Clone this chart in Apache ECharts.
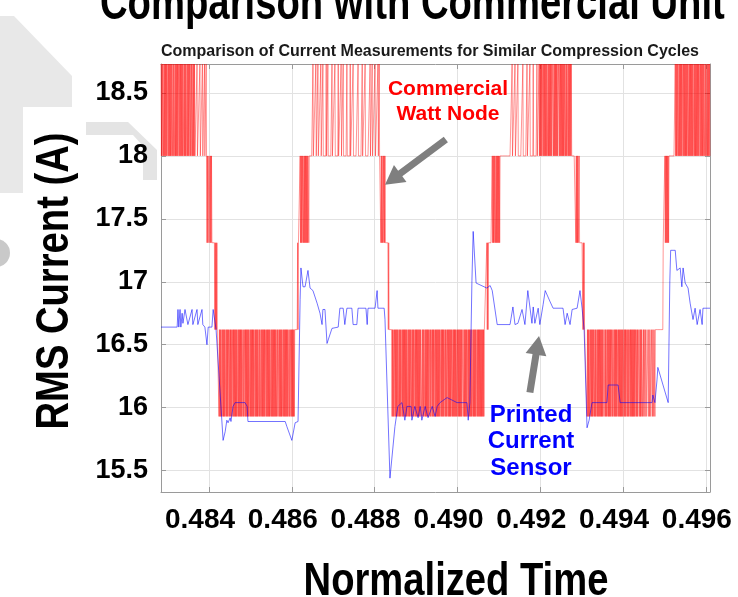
<!DOCTYPE html>
<html>
<head>
<meta charset="utf-8">
<script src="https://cdn.jsdelivr.net/npm/echarts@6/dist/echarts.min.js"></script>
<style>
  html, body { margin: 0; padding: 0; background: #ffffff; }
  #chart { width: 738px; height: 597px; }
</style>
</head>
<body>
<div id="chart"></div>
<script>
// ---- Axis limits and ticks ----
const timeRange = [0.48284, 0.49610];
const currentRange = [15.33, 18.73];
const timeTicks = [0.484, 0.486, 0.488, 0.490, 0.492, 0.494, 0.496];
const currentTicks = [15.5, 16, 16.5, 17, 17.5, 18, 18.5];

// ---- Commercial Watt Node: quantised RMS current levels (A) ----
const wattNodeLevels = [15.93, 16.62, 17.31, 18.00, 18.73];
// sampling clock of the meter (normalized time)
const wattNodeStart = 0.48284;
const wattNodeStep = 0.00001;
// one character per sample = index into wattNodeLevels, grouped by cycle phase
const wattNodeHigh1 = ["4343443434", "3434344343", "4343434434", "3443434343", "4344343434",
  "3434434343", "4334343434", "4343443434", "34",
  "33333", "4", "333333", "4", "33333", "4", "3333", "4", "333", "4", "3"];
const wattNodeFall1 = ["2323322323232", "222222", "1212121111"];
const wattNodeLow1 = ["0101010010", "1010100101", "0101101010", "1001010101", "0101001010",
  "1010101101", "0010101010", "1010010101", "0101011010", "1010100101", "0010101010",
  "1011010101", "0101001010", "1010101010", "0101101010", "1010010101", "0101010110",
  "1001010101", "0101"];
const wattNodeRise1 = ["11111", "1212222", "323232332323232323233233", "3333333"];
const wattNodeHigh2 = ["4333333", "43333", "4333333", "43333", "43333333", "4333", "4333333333",
  "4333333", "43333333", "4333333", "43333", "433333333", "43333333", "4333333",
  "433333333333", "4333333333", "4333333", "433333333333", "43333", "4333333", "4333333",
  "433", "43"];
const wattNodeFall2 = ["33", "232322323232", "22222", "2121", "111111"];
const wattNodeLow2 = ["0101001010", "1010110101", "0100101010", "1010101001", "0101011010",
  "1010010101", "0101010101", "1001010110", "1010101010", "0101001010", "1011010101",
  "0101010010", "1010101101", "0100101010", "1010110101", "0101010010", "1010101010",
  "0110101010", "1001010101", "0101101010", "1010010101", "0101010101", "01011"];
const wattNodeRise2 = ["1111", "21212222", "22222", "32323233232323232323",
  "3333333333", "3333333333", "33333333"];
const wattNodeHigh3 = ["4333333", "4333333", "433333333333", "4333333333", "4333333",
  "43333333", "433333333", "43333", "43",
  "4343434434", "3434343443", "4343434343", "3443434343", "4343344343", "4343434343",
  "4434343343", "43434343"];
const wattNodeFall3 = ["333333333", "2323232232", "2222222", "1212", "111111"];
const wattNodeLow3 = ["0101010010", "1010101101", "0100101010", "1010101010", "0110101001",
  "0101010101", "1010010101", "0101101010", "1010101001", "0101011010", "1001010101",
  "0101010110", "1010011010", "1011001011", "0110011101", "1011001101", "101101111"];
const wattNodeRise3 = ["11111", "11111", "11111", "2222", "323232323233", "3333333333", "333",
  "4343434434", "3434343443", "4343434343", "4434343434", "3434434343", "4343434344",
  "3434343434", "4343443434", "34343"];

// ---- Printed current sensor trace ----
const sensorTime = [0.48284, 0.48323, 0.48325, 0.48327, 0.48330, 0.48332, 0.48335, 0.48337,
  0.48342, 0.48349, 0.48359, 0.48361, 0.48371, 0.48373, 0.48383, 0.48385, 0.48390, 0.48395,
  0.48398, 0.48407, 0.48410, 0.48417, 0.48434, 0.48439, 0.48443, 0.48446, 0.48451, 0.48453,
  0.48458, 0.48463, 0.48487, 0.48492, 0.48494, 0.48584, 0.48588, 0.48600, 0.48608, 0.48615,
  0.48620, 0.48622, 0.48627, 0.48632, 0.48639, 0.48644, 0.48651, 0.48661, 0.48668, 0.48673,
  0.48675, 0.48680, 0.48685, 0.48697, 0.48712, 0.48716, 0.48724, 0.48728, 0.48733, 0.48745,
  0.48748, 0.48757, 0.48760, 0.48779, 0.48782, 0.48784, 0.48801, 0.48806, 0.48808, 0.48823,
  0.48825, 0.48837, 0.48849, 0.48856, 0.48866, 0.48873, 0.48878, 0.48888, 0.48890, 0.48897,
  0.48905, 0.48910, 0.48914, 0.48922, 0.48929, 0.48939, 0.48946, 0.48951, 0.48958, 0.48975,
  0.48987, 0.48999, 0.49023, 0.49026, 0.49030, 0.49035, 0.49038, 0.49045, 0.49071, 0.49079,
  0.49084, 0.49096, 0.49127, 0.49134, 0.49139, 0.49146, 0.49156, 0.49163, 0.49170, 0.49180,
  0.49183, 0.49187, 0.49195, 0.49199, 0.49207, 0.49212, 0.49224, 0.49231, 0.49255, 0.49260,
  0.49265, 0.49272, 0.49277, 0.49289, 0.49296, 0.49301, 0.49306, 0.49313, 0.49318, 0.49325,
  0.49361, 0.49364, 0.49388, 0.49393, 0.49470, 0.49472, 0.49477, 0.49482, 0.49484, 0.49509,
  0.49513, 0.49515, 0.49526, 0.49530, 0.49538, 0.49542, 0.49545, 0.49550, 0.49557, 0.49562,
  0.49569, 0.49574, 0.49579, 0.49586, 0.49591, 0.49593, 0.49610];
const sensorCurrent = [16.64, 16.64, 16.78, 16.64, 16.78, 16.64, 16.75, 16.67,
  16.78, 16.66, 16.78, 16.66, 16.78, 16.66, 16.78, 16.66, 16.64, 16.50,
  16.64, 16.64, 16.78, 16.62, 15.74, 15.81, 15.90, 15.88, 15.92, 15.89,
  16.01, 16.04, 16.04, 16.01, 15.89, 15.89, 15.85, 15.74, 15.88, 15.89,
  16.86, 17.11, 16.96, 16.96, 17.09, 16.95, 16.93, 16.83, 16.75, 16.66,
  16.78, 16.78, 16.51, 16.63, 16.64, 16.79, 16.79, 16.66, 16.79, 16.79,
  16.66, 16.66, 16.79, 16.79, 16.66, 16.79, 16.79, 16.93, 16.79, 16.79,
  16.70, 15.44, 15.85, 16.01, 16.04, 15.90, 16.01, 16.01, 15.90, 16.01,
  15.92, 16.01, 15.90, 16.01, 15.92, 16.01, 15.93, 16.01, 16.04, 16.08,
  16.06, 16.04, 16.04, 15.90, 16.04, 17.01, 17.40, 16.99, 16.95, 16.97,
  16.93, 16.66, 16.66, 16.80, 16.66, 16.67, 16.78, 16.66, 16.93, 16.67,
  16.80, 16.67, 16.79, 16.66, 16.82, 16.93, 16.84, 16.79, 16.79, 16.66,
  16.75, 16.66, 16.78, 16.79, 16.93, 16.79, 16.62, 15.84, 15.90, 16.04,
  16.04, 16.18, 16.18, 16.04, 16.04, 16.10, 16.04, 16.22, 16.32, 16.04,
  17.01, 17.25, 17.25, 17.09, 17.11, 16.96, 17.11, 16.99, 16.95, 16.83,
  16.70, 16.79, 16.66, 16.78, 16.66, 16.79, 16.79];

// annotation arrows, given in data coordinates [time, current]
const wattArrow = { from: [0.48972, 18.13], to: [0.48825, 17.77] };
const sensorArrow = { from: [0.49175, 16.12], to: [0.49197, 16.57] };

// ---- build series data ----
const wattNodeSamples = [wattNodeHigh1, wattNodeFall1, wattNodeLow1, wattNodeRise1,
  wattNodeHigh2, wattNodeFall2, wattNodeLow2, wattNodeRise2,
  wattNodeHigh3, wattNodeFall3, wattNodeLow3, wattNodeRise3]
  .map(p => p.join('')).join('');
const wattNodeData = [];
for (let i = 0; i < wattNodeSamples.length; i++) {
  wattNodeData.push([wattNodeStart + i * wattNodeStep, wattNodeLevels[+wattNodeSamples[i]]]);
}
const sensorData = sensorTime.map((t, i) => [t, sensorCurrent[i]]);

const FONT = "'Liberation Sans', Arial, sans-serif";
const AXIS_GREY = '#9a9a9a';
const GRID_GREY = '#e2e2e2';

function frameAxis(extra) {
  return Object.assign({
    type: 'value',
    axisLine: { show: true, onZero: false, lineStyle: { color: AXIS_GREY, width: 1 } },
    axisTick: { show: true, inside: true, length: 5, lineStyle: { color: AXIS_GREY } },
    splitLine: { show: false }
  }, extra);
}

const chart = echarts.init(document.getElementById('chart'), null, { renderer: 'canvas' });

chart.setOption({
  animation: false,
  backgroundColor: '#ffffff',
  textStyle: { fontFamily: FONT },
  grid: { left: 161, right: 28, top: 64, bottom: 105 },
  xAxis: [
    frameAxis({
      min: timeRange[0], max: timeRange[1], position: 'bottom',
      axisTick: { show: true, inside: true, length: 5, customValues: timeTicks, lineStyle: { color: AXIS_GREY } },
      axisLabel: {
        customValues: timeTicks, formatter: v => v.toFixed(3),
        fontSize: 28, fontWeight: 'bold', color: '#000', fontFamily: FONT,
        margin: 14, padding: [0, 18, 0, 0]
      },
      splitLine: { show: true, lineStyle: { color: GRID_GREY, width: 1 } }
    }),
    frameAxis({
      min: timeRange[0], max: timeRange[1], position: 'top',
      axisTick: { show: true, inside: true, length: 5, customValues: timeTicks, lineStyle: { color: AXIS_GREY } },
      axisLabel: { show: false }
    })
  ],
  yAxis: [
    frameAxis({
      min: currentRange[0], max: currentRange[1], position: 'left',
      axisTick: { show: true, inside: true, length: 5, customValues: currentTicks, lineStyle: { color: AXIS_GREY } },
      axisLabel: {
        customValues: currentTicks,
        fontSize: 27, fontWeight: 'bold', color: '#000', fontFamily: FONT, margin: 13
      },
      splitLine: { show: true, lineStyle: { color: GRID_GREY, width: 1 } }
    }),
    frameAxis({
      min: currentRange[0], max: currentRange[1], position: 'right',
      axisTick: { show: true, inside: true, length: 5, customValues: currentTicks, lineStyle: { color: AXIS_GREY } },
      axisLabel: { show: false }
    })
  ],
  series: [
    {
      name: 'Commercial Watt Node', type: 'line', data: wattNodeData,
      xAxisIndex: 0, yAxisIndex: 0,
      showSymbol: false, symbol: 'none',
      lineStyle: { color: '#ff0000', width: 0.6, opacity: 0.7 },
      z: 2
    },
    {
      name: 'Printed Current Sensor', type: 'line', data: sensorData,
      xAxisIndex: 0, yAxisIndex: 0,
      showSymbol: false, symbol: 'none',
      lineStyle: { color: '#0000ff', width: 1, opacity: 0.55 },
      z: 3
    }
  ]
});

// arrow polygon from tail to tip (pixel space)
function arrowShape(tail, tip) {
  const shaft = 7, headLen = 19, headWidth = 21;
  const dx = tip[0] - tail[0], dy = tip[1] - tail[1];
  const len = Math.hypot(dx, dy);
  const ux = dx / len, uy = dy / len;
  const nx = -uy, ny = ux;
  const bx = tip[0] - ux * headLen, by = tip[1] - uy * headLen;
  return [
    [tail[0] + nx * shaft / 2, tail[1] + ny * shaft / 2],
    [bx + nx * shaft / 2, by + ny * shaft / 2],
    [bx + nx * headWidth / 2, by + ny * headWidth / 2],
    [tip[0], tip[1]],
    [bx - nx * headWidth / 2, by - ny * headWidth / 2],
    [bx - nx * shaft / 2, by - ny * shaft / 2],
    [tail[0] - nx * shaft / 2, tail[1] - ny * shaft / 2]
  ];
}
const px = p => chart.convertToPixel({ gridIndex: 0 }, p);

chart.setOption({
  graphic: { elements: [
    // slide decoration behind the figure
    { type: 'polygon', z: -10, silent: true,
      shape: { points: [[0, 16], [14, 16], [72, 76], [72, 107], [23, 107], [23, 193], [0, 193]] },
      style: { fill: '#e8e8e8' } },
    { type: 'polygon', z: -10, silent: true,
      shape: { points: [[86, 122], [128, 122], [157, 150], [157, 180], [143, 180], [143, 146], [133, 135], [86, 135]] },
      style: { fill: '#e4e4e4' } },
    { type: 'circle', z: -10, silent: true,
      shape: { cx: -4, cy: 253, r: 14 }, style: { fill: '#c9c9c9' } },
    // slide title (runs off the top edge)
    { type: 'text', x: 100, y: 30, scaleX: 0.765, silent: true,
      style: { text: 'Comparison with Commercial Unit', font: 'bold 50px ' + FONT,
        fill: '#000', textAlign: 'left', textVerticalAlign: 'bottom' } },
    // figure title
    { type: 'text', x: 430, y: 52, silent: true,
      style: { text: 'Comparison of Current Measurements for Similar Compression Cycles',
        font: 'bold 16px ' + FONT, fill: '#1a1a1a', textAlign: 'center', textVerticalAlign: 'middle' } },
    // axis titles
    { type: 'text', x: 55, y: 281, rotation: Math.PI / 2, scaleX: 0.83, silent: true,
      style: { text: 'RMS Current (A)', font: 'bold 46px ' + FONT, fill: '#000',
        textAlign: 'center', textVerticalAlign: 'middle' } },
    { type: 'text', x: 456, y: 582, scaleX: 0.83, silent: true,
      style: { text: 'Normalized Time', font: 'bold 46px ' + FONT, fill: '#000',
        textAlign: 'center', textVerticalAlign: 'middle' } },
    // series call-outs
    { type: 'text', x: 448, y: 77, silent: true,
      style: { text: 'Commercial\nWatt Node', font: 'bold 21px ' + FONT, lineHeight: 25,
        fill: '#ff0000', textAlign: 'center', textVerticalAlign: 'top' } },
    { type: 'text', x: 531, y: 402, silent: true,
      style: { text: 'Printed\nCurrent\nSensor', font: 'bold 24px ' + FONT, lineHeight: 26.5,
        fill: '#0000ff', textAlign: 'center', textVerticalAlign: 'top' } },
    { type: 'polygon', silent: true, z: 10,
      shape: { points: arrowShape(px(wattArrow.from), px(wattArrow.to)) },
      style: { fill: '#7f7f7f' } },
    { type: 'polygon', silent: true, z: 10,
      shape: { points: arrowShape(px(sensorArrow.from), px(sensorArrow.to)) },
      style: { fill: '#7f7f7f' } }
  ] }
});
</script>
</body>
</html>
